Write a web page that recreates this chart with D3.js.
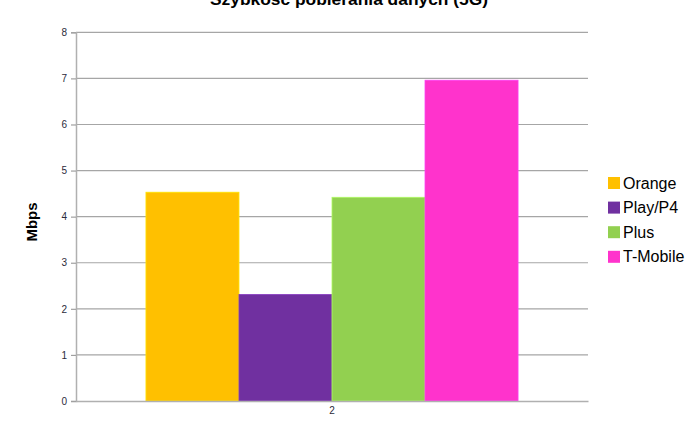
<!DOCTYPE html>
<html>
<head>
<meta charset="utf-8">
<script src="https://cdn.jsdelivr.net/npm/d3@7"></script>
<style>
  html, body { margin: 0; padding: 0; background: #fff; }
  svg { display: block; }
  text { font-family: "Liberation Sans", Arial, sans-serif; }
</style>
</head>
<body>
<svg id="chart" width="700" height="441"></svg>
<script>
const title = "Szybkość pobierania danych (5G)";
const yAxisTitle = "Mbps";
const categories = ["2"];
const seriesNames = ["Orange", "Play/P4", "Plus", "T-Mobile"];
const seriesValues = [4.53, 2.31, 4.42, 6.96];
const seriesColors = ["#FFC000", "#7030A0", "#92D050", "#FF33CC"];
const yTicks = [0, 1, 2, 3, 4, 5, 6, 7, 8];

const svg = d3.select("#chart");
const plot = { left: 76, right: 588, top: 32.3, bottom: 401 };

const x = d3.scaleBand().domain(categories).range([plot.left, plot.right]).paddingInner(0).paddingOuter(0.188);
const xs = d3.scaleBand().domain(seriesNames).range([0, x.bandwidth()]).padding(0);
const y = d3.scaleLinear().domain([0, 8]).range([plot.bottom, plot.top]);

// gridlines
svg.append("g")
  .selectAll("line").data(yTicks.filter(d => d > 0)).join("line")
  .attr("x1", plot.left).attr("x2", plot.right)
  .attr("y1", d => y(d)).attr("y2", d => y(d))
  .attr("stroke", "#a6a6a6").attr("stroke-width", 1.2);

// bars
const g = svg.append("g");
categories.forEach(cat => {
  g.selectAll("rect.bar").data(seriesNames).join("rect")
    .attr("class", "bar")
    .attr("x", d => x(cat) + xs(d))
    .attr("width", xs.bandwidth())
    .attr("y", (d, i) => y(seriesValues[i]))
    .attr("height", (d, i) => y(0) - y(seriesValues[i]))
    .attr("fill", (d, i) => seriesColors[i])
    .attr("stroke", (d, i) => d3.color(seriesColors[i]).brighter(0.5))
    .attr("stroke-width", 0.8);
});

// y axis
const yAxis = d3.axisLeft(y).tickValues(yTicks).tickSize(5).tickPadding(4).tickFormat(d3.format("d"));
const ya = svg.append("g").attr("transform", `translate(${plot.left},0)`).call(yAxis);
ya.select(".domain").attr("stroke", "#b0b0b0").attr("stroke-width", 1.5);
ya.selectAll(".tick line").attr("stroke", "#a0a0a0").attr("stroke-width", 1.2);
ya.selectAll(".tick text").attr("fill", "#2b2b3b").attr("font-size", 10);

// x axis
const xAxis = d3.axisBottom(x).tickSize(0).tickPadding(6);
const xa = svg.append("g").attr("transform", `translate(0,${plot.bottom})`).call(xAxis);
xa.select(".domain").attr("stroke", "#b0b0b0").attr("stroke-width", 1.5);
xa.selectAll(".tick text").attr("fill", "#2b2b3b").attr("font-size", 10);

// title (partially cut off at top, as in the reference)
svg.append("text")
  .attr("x", 349).attr("y", 4.5)
  .attr("text-anchor", "middle")
  .attr("font-size", 17).attr("font-weight", "bold")
  .attr("textLength", 278).attr("lengthAdjust", "spacingAndGlyphs")
  .attr("fill", "#000")
  .text(title);

// y axis title
svg.append("text")
  .attr("transform", "translate(37,222) rotate(-90)")
  .attr("text-anchor", "middle")
  .attr("font-size", 15).attr("font-weight", "bold")
  .attr("fill", "#000")
  .text(yAxisTitle);

// legend
const legend = svg.append("g").attr("transform", "translate(608,177)");
const items = legend.selectAll("g").data(seriesNames).join("g")
  .attr("transform", (d, i) => `translate(0,${i * 24.6})`);
items.append("rect").attr("width", 12).attr("height", 12)
  .attr("fill", (d, i) => seriesColors[i]);
items.append("text").attr("x", 15).attr("y", 11.5)
  .attr("font-size", 16).attr("fill", "#000")
  .text(d => d);
</script>
</body>
</html>
